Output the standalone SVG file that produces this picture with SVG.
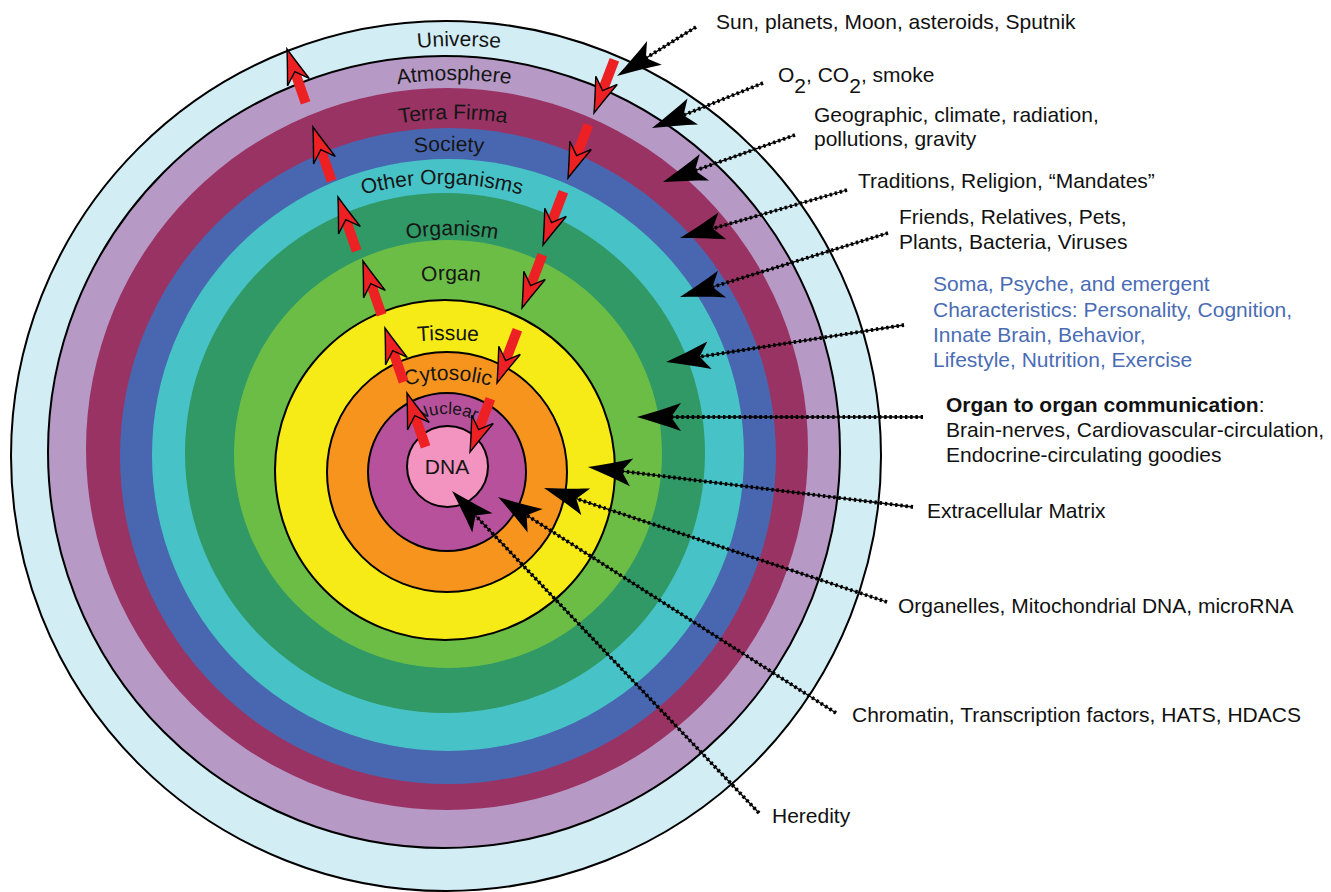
<svg xmlns="http://www.w3.org/2000/svg" xmlns:xlink="http://www.w3.org/1999/xlink" width="1331" height="892" viewBox="0 0 1331 892">
<style>
text{font-family:"Liberation Sans",Arial,Helvetica,sans-serif;font-size:21px;fill:#111}
.ring{font-size:21px;fill:#151515}
.edge{stroke:#000;stroke-width:2}
.conn{fill:none;stroke:#000;stroke-width:1.3}
.dots{fill:none;stroke:#000;stroke-width:3.8;stroke-dasharray:2.4 2.8}
.rbar{fill:none;stroke:#ed2024;stroke-width:10}
.blue{fill:#4a6cb5}
.b{font-weight:bold}
</style>
<defs>
<marker id="bh" markerUnits="userSpaceOnUse" viewBox="-46 -16 50 32" markerWidth="50" markerHeight="32" refX="-34" refY="0" orient="auto" overflow="visible">
<path d="M0,0 C-14,-4 -30,-9 -44,-14 L-34,0 L-44,14 C-30,9 -14,4 0,0Z" fill="#000"/>
</marker>
<marker id="rh" markerUnits="userSpaceOnUse" viewBox="-38 -14 42 28" markerWidth="42" markerHeight="28" refX="-24" refY="0" orient="auto" overflow="visible">
<path d="M0,0 C-10,-3 -22,-7 -35,-11.5 L-24,0 L-35,11.5 C-22,7 -10,3 0,0Z" fill="#ed2024" stroke="#000" stroke-width="1.4" stroke-linejoin="miter"/>
</marker>
<path id="p-universe" d="M169.1,166.1 A410,410 0 0 1 748.9,166.1"/>
<path id="p-atmo" d="M188.1,190.1 A376,376 0 0 1 719.9,190.1"/>
<path id="p-terra" d="M212.6,218.6 A340,340 0 0 1 693.4,218.6"/>
<path id="p-society" d="M233.3,240.3 A305,305 0 0 1 664.7,240.3"/>
<path id="p-other" d="M229.9,271.9 A300,300 0 0 1 654.1,271.9"/>
<path id="p-organism" d="M268.2,311.2 A260,260 0 0 1 635.8,311.2"/>
<path id="p-organ" d="M295.4,344.4 A220,220 0 0 1 606.6,344.4"/>
<path id="p-tissue" d="M165.2,457.2 A400,400 0 0 1 730.8,457.2"/>
<path id="p-cyto" d="M341.9,423.9 A150,150 0 0 1 554.1,423.9"/>
<path id="p-nuc" d="M401,433 A65,65 0 0 1 493,433"/>
</defs>

<g id="universe"><circle cx="446" cy="456" r="435" fill="#d3edf4" class="edge"/>
<text class="ring"><textPath href="#p-universe" startOffset="50%" text-anchor="middle">Universe</textPath></text></g>
<g id="atmosphere"><circle cx="444" cy="452" r="396" fill="#b799c6" class="edge"/>
<text class="ring"><textPath href="#p-atmo" startOffset="50%" text-anchor="middle">Atmosphere</textPath></text></g>
<g id="terra-firma"><circle cx="447" cy="449" r="361" fill="#993363"/>
<text class="ring"><textPath href="#p-terra" startOffset="50%" text-anchor="middle">Terra Firma</textPath></text></g>
<g id="society"><circle cx="448" cy="456" r="328" fill="#4967b0"/>
<text class="ring"><textPath href="#p-society" startOffset="50%" text-anchor="middle">Society</textPath></text></g>
<g id="other-organisms"><circle cx="448" cy="455" r="296" fill="#47c2c6"/>
<text class="ring"><textPath href="#p-other" startOffset="50%" text-anchor="middle">Other Organisms</textPath></text></g>
<g id="organism"><circle cx="445" cy="453" r="260" fill="#309966"/>
<text class="ring"><textPath href="#p-organism" startOffset="50%" text-anchor="middle">Organism</textPath></text></g>
<g id="organ"><circle cx="448" cy="454" r="214" fill="#6bbd45"/>
<text class="ring"><textPath href="#p-organ" startOffset="50%" text-anchor="middle">Organ</textPath></text></g>
<g id="tissue"><circle cx="445" cy="470" r="170" fill="#f6eb16" class="edge"/>
<text class="ring"><textPath href="#p-tissue" startOffset="50%" text-anchor="middle">Tissue</textPath></text></g>
<g id="cytosolic"><circle cx="447" cy="472" r="120" fill="#f7941e" class="edge"/>
<text class="ring"><textPath href="#p-cyto" startOffset="50%" text-anchor="middle">Cytosolic</textPath></text></g>
<g id="nuclear"><circle cx="447" cy="472" r="79" fill="#b8519c" class="edge"/>
<text class="ring" style="font-size:17px"><textPath href="#p-nuc" startOffset="50%" text-anchor="middle">Nuclear</textPath></text></g>
<g id="dna"><circle cx="447.5" cy="466.5" r="40.5" fill="#f393c0" class="edge"/>
<text class="ring" x="447" y="474" text-anchor="middle">DNA</text></g>

<g id="flows">
<path class="rbar" d="M305.6,102.9 L294.8,71.7" marker-end="url(#rh)"/>
<path class="rbar" d="M331.6,180.9 L320.8,149.7" marker-end="url(#rh)"/>
<path class="rbar" d="M356.6,250.9 L345.8,219.7" marker-end="url(#rh)"/>
<path class="rbar" d="M381.6,314.9 L370.8,283.7" marker-end="url(#rh)"/>
<path class="rbar" d="M403.6,381.9 L392.8,350.7" marker-end="url(#rh)"/>
<path class="rbar" d="M425.6,446.9 L414.8,415.7" marker-end="url(#rh)"/>
<path class="rbar" d="M614.4,59.8 L602.6,90.6" marker-end="url(#rh)"/>
<path class="rbar" d="M588.4,124.8 L576.6,155.6" marker-end="url(#rh)"/>
<path class="rbar" d="M563.4,191.8 L551.6,222.6" marker-end="url(#rh)"/>
<path class="rbar" d="M542.4,254.8 L530.6,285.6" marker-end="url(#rh)"/>
<path class="rbar" d="M517.4,329.8 L505.6,360.6" marker-end="url(#rh)"/>
<path class="rbar" d="M490.4,398.8 L478.6,429.6" marker-end="url(#rh)"/>
</g>

<g id="connectors">
<path class="dots" d="M696,27 L645.9,58.1"/><path class="conn" d="M696,27 L645.9,58.1" marker-end="url(#bh)"/>
<path class="dots" d="M763,83 L683.5,115.2"/><path class="conn" d="M763,83 L683.5,115.2" marker-end="url(#bh)"/>
<path class="dots" d="M795,135 L695,170.6"/><path class="conn" d="M795,135 L695,170.6" marker-end="url(#bh)"/>
<path class="dots" d="M847,190 L712.7,228.6"/><path class="conn" d="M847,190 L712.7,228.6" marker-end="url(#bh)"/>
<path class="dots" d="M888,233 L712.5,287"/><path class="conn" d="M888,233 L712.5,287" marker-end="url(#bh)"/>
<path class="dots" d="M904,325 L699.6,356.8"/><path class="conn" d="M904,325 L699.6,356.8" marker-end="url(#bh)"/>
<path class="dots" d="M923,417 L671,417"/><path class="conn" d="M923,417 L671,417" marker-end="url(#bh)"/>
<path class="dots" d="M913,507 L621.7,471.1"/><path class="conn" d="M913,507 L621.7,471.1" marker-end="url(#bh)"/>
<path class="dots" d="M887,602 L576.3,498.7"/><path class="conn" d="M887,602 L576.3,498.7" marker-end="url(#bh)"/>
<path class="dots" d="M836,713 L526.7,515.3"/><path class="conn" d="M836,713 L526.7,515.3" marker-end="url(#bh)"/>
<path class="dots" d="M759,813 L475.5,515.6"/><path class="conn" d="M759,813 L475.5,515.6" marker-end="url(#bh)"/>
</g>

<g id="labels">
<text x="716" y="29">Sun, planets, Moon, asteroids, Sputnik</text>
<text x="778" y="82">O<tspan dy="11">2</tspan><tspan dy="-11">, CO</tspan><tspan dy="11">2</tspan><tspan dy="-11">, smoke</tspan></text>
<text x="814" y="122">Geographic, climate, radiation,</text>
<text x="814" y="146">pollutions, gravity</text>
<text x="858" y="188">Traditions, Religion, “Mandates”</text>
<text x="899" y="224">Friends, Relatives, Pets,</text>
<text x="899" y="249">Plants, Bacteria, Viruses</text>
<text class="blue" x="933" y="291">Soma, Psyche, and emergent</text>
<text class="blue" x="933" y="317">Characteristics: Personality, Cognition,</text>
<text class="blue" x="933" y="342">Innate Brain, Behavior,</text>
<text class="blue" x="933" y="367">Lifestyle, Nutrition, Exercise</text>
<text x="946" y="412"><tspan class="b">Organ to organ communication</tspan>:</text>
<text x="946" y="437">Brain-nerves, Cardiovascular-circulation,</text>
<text x="946" y="462">Endocrine-circulating goodies</text>
<text x="927" y="518">Extracellular Matrix</text>
<text x="898" y="613">Organelles, Mitochondrial DNA, microRNA</text>
<text x="852" y="722">Chromatin, Transcription factors, HATS, HDACS</text>
<text x="772" y="823">Heredity</text>
</g>
</svg>
